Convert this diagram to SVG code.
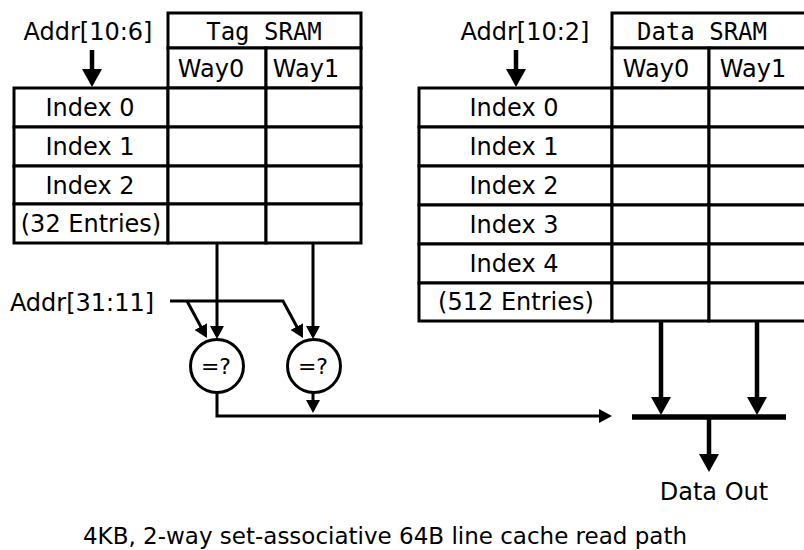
<svg xmlns="http://www.w3.org/2000/svg" width="804" height="550" viewBox="0 0 804 550">
<defs>
<style>
.t{font-family:"DejaVu Sans",Verdana,sans-serif;font-size:24px;fill:#000;text-anchor:middle}
.m{font-family:"DejaVu Sans Mono",monospace;font-size:24px;fill:#000;text-anchor:middle}
.cell{fill:#fff;stroke:#000;stroke-width:3}
.ln{fill:none;stroke:#000;stroke-width:3}
.th{fill:none;stroke:#000;stroke-width:4.5}
.cmp{fill:#fff;stroke:#000;stroke-width:3}
</style>
<marker id="ah" viewBox="0 0 13 14" refX="3" refY="7" markerWidth="13" markerHeight="14" markerUnits="userSpaceOnUse" orient="auto"><path d="M0,0 L13,7 L0,14 z" fill="#000"/></marker>
<marker id="ahb" viewBox="0 0 18 20" refX="4" refY="10" markerWidth="18" markerHeight="20" markerUnits="userSpaceOnUse" orient="auto"><path d="M0,0 L18,10 L0,20 z" fill="#000"/></marker>
</defs>
<rect width="804" height="550" fill="#fff"/>

<g id="tag-sram">
<rect class="cell" x="168" y="13" width="193" height="35"/>
<text class="m" x="264" y="40">Tag SRAM</text>
<rect class="cell" x="168" y="48" width="98" height="40"/>
<rect class="cell" x="266" y="48" width="95" height="40"/>
<text class="t" x="211" y="77">Way0</text>
<text class="t" x="306" y="77">Way1</text>
<rect class="cell" x="14" y="88" width="154" height="39"/>
<rect class="cell" x="168" y="88" width="98" height="39"/>
<rect class="cell" x="266" y="88" width="95" height="39"/>
<rect class="cell" x="14" y="127" width="154" height="39"/>
<rect class="cell" x="168" y="127" width="98" height="39"/>
<rect class="cell" x="266" y="127" width="95" height="39"/>
<rect class="cell" x="14" y="166" width="154" height="38"/>
<rect class="cell" x="168" y="166" width="98" height="38"/>
<rect class="cell" x="266" y="166" width="95" height="38"/>
<rect class="cell" x="14" y="204" width="154" height="39"/>
<rect class="cell" x="168" y="204" width="98" height="39"/>
<rect class="cell" x="266" y="204" width="95" height="39"/>
<text class="t" x="90" y="116">Index 0</text>
<text class="t" x="90" y="155">Index 1</text>
<text class="t" x="90" y="194">Index 2</text>
<text class="t" x="91" y="232">(32 Entries)</text>
</g>

<g id="data-sram">
<rect class="cell" x="612" y="13" width="196" height="35"/>
<text class="m" x="702" y="40">Data SRAM</text>
<rect class="cell" x="612" y="48" width="97" height="40"/>
<rect class="cell" x="709" y="48" width="99" height="40"/>
<text class="t" x="656" y="77">Way0</text>
<text class="t" x="753" y="77">Way1</text>
<rect class="cell" x="419" y="88" width="193" height="39"/>
<rect class="cell" x="612" y="88" width="97" height="39"/>
<rect class="cell" x="709" y="88" width="99" height="39"/>
<rect class="cell" x="419" y="127" width="193" height="39"/>
<rect class="cell" x="612" y="127" width="97" height="39"/>
<rect class="cell" x="709" y="127" width="99" height="39"/>
<rect class="cell" x="419" y="166" width="193" height="39"/>
<rect class="cell" x="612" y="166" width="97" height="39"/>
<rect class="cell" x="709" y="166" width="99" height="39"/>
<rect class="cell" x="419" y="205" width="193" height="39"/>
<rect class="cell" x="612" y="205" width="97" height="39"/>
<rect class="cell" x="709" y="205" width="99" height="39"/>
<rect class="cell" x="419" y="244" width="193" height="39"/>
<rect class="cell" x="612" y="244" width="97" height="39"/>
<rect class="cell" x="709" y="244" width="99" height="39"/>
<rect class="cell" x="419" y="283" width="193" height="38"/>
<rect class="cell" x="612" y="283" width="97" height="38"/>
<rect class="cell" x="709" y="283" width="99" height="38"/>
<text class="t" x="514" y="116">Index 0</text>
<text class="t" x="514" y="155">Index 1</text>
<text class="t" x="514" y="194">Index 2</text>
<text class="t" x="514" y="233">Index 3</text>
<text class="t" x="514" y="272">Index 4</text>
<text class="t" x="516" y="310">(512 Entries)</text>
</g>

<g id="cmp0">
<circle class="cmp" cx="217" cy="366" r="26.5"/>
<text class="t" x="216" y="374" style="font-size:22px">=?</text>
</g>
<g id="cmp1">
<circle class="cmp" cx="314" cy="366" r="26.5"/>
<text class="t" x="313" y="374" style="font-size:22px">=?</text>
</g>

<g id="labels">
<text class="t" x="88" y="40">Addr[10:6]</text>
<text class="t" x="525" y="40">Addr[10:2]</text>
<text class="t" x="82" y="311">Addr[31:11]</text>
<text class="t" x="714" y="500">Data Out</text>
<text class="t" x="385" y="544" style="font-size:23px">4KB, 2-way set-associative 64B line cache read path</text>
</g>

<g id="connectors">
<path class="th" d="M92,50 V73" marker-end="url(#ahb)"/>
<path class="th" d="M516,50 V73" marker-end="url(#ahb)"/>
<path class="ln" d="M217,243 V329" marker-end="url(#ah)"/>
<path class="ln" d="M313,243 V329" marker-end="url(#ah)"/>
<path class="ln" d="M170,301 H283 L298.2,329.2" marker-end="url(#ah)"/>
<path class="ln" d="M187,301 L202.2,329.2" marker-end="url(#ah)"/>
<path class="ln" d="M217,393 V416 H602" marker-end="url(#ah)"/>
<path class="ln" d="M313,393 V403" marker-end="url(#ah)"/>
<path class="th" d="M661,321 V401" marker-end="url(#ahb)"/>
<path class="th" d="M757,321 V401" marker-end="url(#ahb)"/>
<path class="th" d="M632,417 H786" style="stroke-width:5.5"/>
<path class="th" d="M709,417 V458" marker-end="url(#ahb)"/>
</g>
</svg>
